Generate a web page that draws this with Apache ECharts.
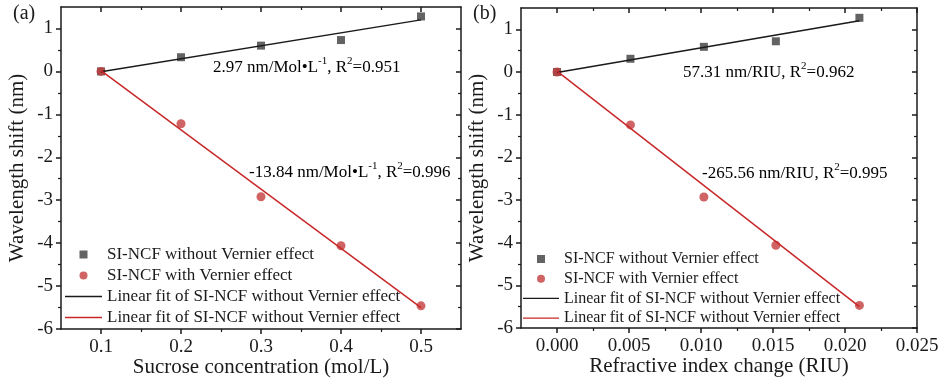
<!DOCTYPE html>
<html>
<head>
<meta charset="utf-8">
<script src="https://cdn.jsdelivr.net/npm/echarts@6/dist/echarts.min.js"></script>
<style>
  html, body { margin: 0; padding: 0; background: #fff; }
  #chart { width: 939px; height: 382px; }
</style>
</head>
<body>
<div id="chart"></div>
<script>
// data
const concX = [0.1, 0.2, 0.3, 0.4, 0.5];
const riuX = [0, 0.0051, 0.0102, 0.0152, 0.021];
const concNoVernier = [0, 0.33, 0.60, 0.73, 1.28];
const concVernier = [0, -1.22, -2.92, -4.06, -5.46];
const riuNoVernier = [0, 0.31, 0.59, 0.72, 1.27];
const riuVernier = [0, -1.24, -2.93, -4.06, -5.47];

// fitted line end points
const concFitX = [0.1, 0.5];
const riuFitX = [0, 0.021];
const fitNoVernier = [-0.01, 1.2];
const fitVernier = [0.02, -5.5];

// ticks
const concTicks = [0.1, 0.2, 0.3, 0.4, 0.5];
const concMinor = [0.15, 0.25, 0.35, 0.45];
const riuTicks = [0, 0.005, 0.01, 0.015, 0.02, 0.025];
const riuMinor = [0.0025, 0.0075, 0.0125, 0.0175, 0.0225];
const yTicks = [-6, -5, -4, -3, -2, -1, 0, 1];
const yMinor = [-5.5, -4.5, -3.5, -2.5, -1.5, -0.5, 0.5];

const names = [
  'SI-NCF without Vernier effect',
  'SI-NCF with Vernier effect',
  'Linear fit of SI-NCF without Vernier effect',
  'Linear fit of SI-NCF without Vernier effect ' // trailing space keeps legend items apart
];

const serif = "'Liberation Serif', 'Times New Roman', serif";
const ink = '#1a1a1a';
const gray = '#3c3c3c';
const red = '#c43c3c';
const redLine = '#c8282a';
const barIcon = 'path://M0,0H60V2.4H0Z';
const squareIcon = 'path://M0,0H10V10H0Z';

const zip = (xs, ys) => xs.map((x, i) => [x, ys[i]]);

function xAxes(grid, min, max, ticks, minor, label, nameText) {
  const base = {
    type: 'value', gridIndex: grid, min: min, max: max,
    splitLine: { show: false },
    axisLine: { show: false, onZero: false },
    axisLabel: { show: false },
    axisTick: { show: false }
  };
  return [
    Object.assign({}, base, {
      position: 'bottom',
      axisLine: { show: true, onZero: false, lineStyle: { color: ink, width: 1.5 } },
      axisTick: { show: true, inside: false, length: 5, customValues: ticks, lineStyle: { color: ink, width: 1.5 } },
      axisLabel: { show: true, customValues: ticks, formatter: label, margin: 9,
        fontFamily: serif, fontSize: 19, color: ink },
      name: nameText, nameLocation: 'middle', nameGap: 28, nameMoveOverlap: false,
      nameTextStyle: { fontFamily: serif, fontSize: 21, color: ink }
    }),
    Object.assign({}, base, {
      position: 'bottom',
      axisTick: { show: true, inside: false, length: 3, customValues: minor, lineStyle: { color: ink, width: 1.2 } }
    }),
    Object.assign({}, base, {
      position: 'top',
      axisLine: { show: true, onZero: false, lineStyle: { color: ink, width: 1.5 } },
      axisTick: { show: true, inside: true, length: 5, customValues: ticks, lineStyle: { color: ink, width: 1.5 } }
    }),
    Object.assign({}, base, {
      position: 'top',
      axisTick: { show: true, inside: true, length: 3, customValues: minor, lineStyle: { color: ink, width: 1.2 } }
    })
  ];
}

function yAxes(grid) {
  const base = {
    type: 'value', gridIndex: grid, min: -6, max: 1.5,
    splitLine: { show: false },
    axisLine: { show: false, onZero: false },
    axisLabel: { show: false },
    axisTick: { show: false }
  };
  return [
    Object.assign({}, base, {
      position: 'left',
      axisLine: { show: true, onZero: false, lineStyle: { color: ink, width: 1.5 } },
      axisTick: { show: true, inside: false, length: 5, customValues: yTicks, lineStyle: { color: ink, width: 1.5 } },
      axisLabel: { show: true, customValues: yTicks, margin: 8,
        fontFamily: serif, fontSize: 19, color: ink },
      name: 'Wavelength shift (nm)', nameLocation: 'middle', nameGap: 33, nameMoveOverlap: false,
      nameTextStyle: { fontFamily: serif, fontSize: 21, color: ink }
    }),
    Object.assign({}, base, {
      position: 'left',
      axisTick: { show: true, inside: false, length: 3, customValues: yMinor, lineStyle: { color: ink, width: 1.2 } }
    }),
    Object.assign({}, base, {
      position: 'right',
      axisLine: { show: true, onZero: false, lineStyle: { color: ink, width: 1.5 } },
      axisTick: { show: true, inside: true, length: 5, customValues: yTicks, lineStyle: { color: ink, width: 1.5 } }
    }),
    Object.assign({}, base, {
      position: 'right',
      axisTick: { show: true, inside: true, length: 3, customValues: yMinor, lineStyle: { color: ink, width: 1.2 } }
    })
  ];
}

function panelSeries(axis, xs, blackY, redY, fitX) {
  return [
    { name: names[2], type: 'line', xAxisIndex: axis, yAxisIndex: axis, symbol: 'none',
      data: zip(fitX, fitNoVernier), lineStyle: { color: ink, width: 1.5 }, itemStyle: { color: ink } },
    { name: names[3], type: 'line', xAxisIndex: axis, yAxisIndex: axis, symbol: 'none',
      data: zip(fitX, fitVernier), lineStyle: { color: redLine, width: 1.5 }, itemStyle: { color: redLine } },
    { name: names[0], type: 'scatter', xAxisIndex: axis, yAxisIndex: axis, symbol: 'rect',
      symbolSize: 8, data: zip(xs, blackY), itemStyle: { color: gray } },
    { name: names[1], type: 'scatter', xAxisIndex: axis, yAxisIndex: axis, symbol: 'circle',
      symbolSize: 9, data: zip(xs, redY), itemStyle: { color: red } }
  ];
}

function legendAt(left, top, width, size, gap) {
  return {
    left: left, top: top, padding: 0, orient: 'vertical',
    itemWidth: width, itemHeight: 8, itemGap: gap, symbolKeepAspect: true,
    selectedMode: false,
    data: [
      { name: names[0], icon: squareIcon },
      { name: names[1], icon: 'circle' },
      { name: names[2], icon: barIcon },
      { name: names[3], icon: barIcon }
    ],
    textStyle: { fontFamily: serif, fontSize: size, color: ink, lineHeight: size }
  };
}

function note(x, y, parts, size) {
  return {
    type: 'text', left: x, top: y, z: 100,
    style: {
      rich: {
        n: { fontFamily: serif, fontSize: size, color: ink, lineHeight: 20, verticalAlign: 'bottom' },
        s: { fontFamily: serif, fontSize: 11, color: ink, lineHeight: 20, verticalAlign: 'top' }
      },
      text: parts
    }
  };
}

const chart = echarts.init(document.getElementById('chart'), null, { renderer: 'canvas' });

chart.setOption({
  animation: false,
  backgroundColor: '#fff',
  grid: [
    { left: 61, top: 7, width: 400, height: 322, outerBoundsMode: 'none', containLabel: false },
    { left: 521, top: 8, width: 396, height: 320, outerBoundsMode: 'none', containLabel: false }
  ],
  xAxis: [].concat(
    xAxes(0, 0.05, 0.55, concTicks, concMinor, v => v.toFixed(1), 'Sucrose concentration (mol/L)'),
    xAxes(1, -0.0025, 0.025, riuTicks, riuMinor, v => v.toFixed(3), 'Refractive index change (RIU)')
  ),
  yAxis: [].concat(yAxes(0), yAxes(1)),
  legend: [
    legendAt(65, 246, 37, 17, 4),
    legendAt(523, 251, 36, 16, 3.7)
  ],
  series: [].concat(
    panelSeries(0, concX, concNoVernier, concVernier, concFitX),
    panelSeries(4, riuX, riuNoVernier, riuVernier, riuFitX)
  ),
  graphic: [
    { type: 'text', left: 13, top: 4, style: { text: '(a)', fontFamily: serif, fontSize: 20, fill: ink } },
    { type: 'text', left: 473, top: 4, style: { text: '(b)', fontFamily: serif, fontSize: 20, fill: ink } },
    note(213, 56, '{n|2.97 nm/Mol\u2022L}{s|-1}{n|, R}{s|2}{n|=0.951}', 17),
    note(249, 161, '{n|-13.84 nm/Mol\u2022L}{s|-1}{n|, R}{s|2}{n|=0.996}', 17),
    note(683, 61, '{n|57.31 nm/RIU, R}{s|2}{n|=0.962}', 17),
    note(702, 162, '{n|-265.56 nm/RIU, R}{s|2}{n|=0.995}', 17)
  ]
});
</script>
</body>
</html>
